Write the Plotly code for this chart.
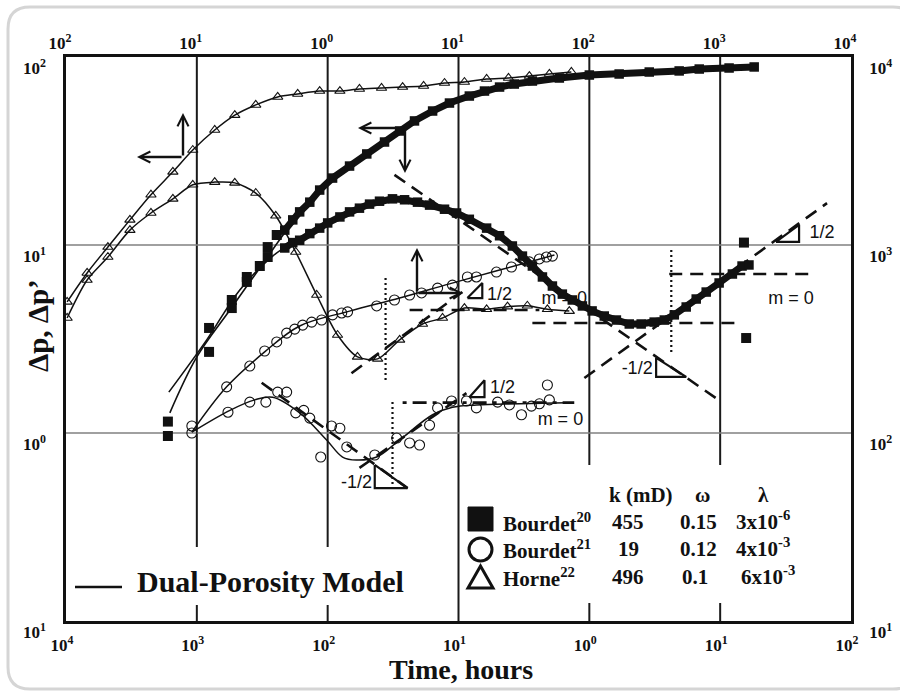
import numpy as np
import plotly.graph_objects as go

# ---------------- data ----------------
# Horne (time on top axis, pressure on left axis)
horne_t = [0.0102, 0.0145, 0.0209, 0.0308, 0.0446, 0.0656, 0.0931, 0.137, 0.195, 0.282, 0.415, 0.590,
           0.869, 1.24, 1.75, 2.58, 3.74, 5.41, 7.82, 11.1, 16.4, 24.1, 34.8, 49.5, 72.9]
horne_dp = [4.98, 7.10, 9.75, 13.6, 18.5, 24.5, 32.0, 40.9, 49.1, 55.6, 61.3, 63.6,
            65.9, 65.9, 67.6, 68.4, 69.2, 70.1, 72.7, 73.6, 76.4, 77.3, 79.2, 81.2, 83.2]
horne_td = [0.0102, 0.0145, 0.0209, 0.0308, 0.0446, 0.0656, 0.0931, 0.137, 0.195, 0.282, 0.401, 0.570,
            0.824, 1.19, 1.69, 2.41, 3.55, 5.31, 7.55, 11.1, 16.4, 23.7, 33.6, 47.8, 70.3]
horne_dpd = [4.09, 6.51, 8.63, 12.0, 14.8, 17.6, 20.9, 21.6, 21.4, 18.9, 14.3, 9.18,
             5.42, 3.32, 2.54, 2.48, 3.13, 3.80, 4.09, 4.62, 4.55, 4.70, 4.75, 4.55, 4.45]

# Bourdet 21 (time on top axis, pressure on right axis)
b21_t = [0.0916, 0.169, 0.254, 0.330, 0.408, 0.486, 0.560, 0.644, 0.755, 0.900, 1.09, 1.28, 1.42,
         2.37, 3.24, 4.23, 5.22, 6.92, 8.99, 11.7, 13.7, 19.5, 25.4, 34.8, 41.5, 47.0, 52.2]
b21_dp = [109, 176, 227, 273, 305, 340, 357, 375, 389, 399, 425, 435, 441,
          474, 510, 542, 556, 590, 612, 676, 676, 718, 764, 813, 843, 863, 873]
b21_td = [0.0916, 0.173, 0.254, 0.337, 0.415, 0.486, 0.570, 0.656, 0.730, 0.885, 1.07, 1.24, 1.40,
          2.29, 3.37, 4.23, 5.04, 6.01, 6.92, 8.85, 11.5, 13.7, 19.9, 24.5, 30.3, 36.1, 41.5, 47.8, 49.5]
b21_dpd = [100, 129, 146, 146, 165, 165, 128, 132, 120, 74.5, 109, 106, 84.3,
           76.4, 94.0, 88.5, 86.3, 110, 136, 148, 148, 136, 146, 141, 125, 139, 143, 180, 150]
b21_model_t = [0.0916, 0.169, 0.330, 0.611, 1.47, 3.55, 8.53, 20.6, 54.1]
b21_model_dp = [101, 176, 270, 371, 445, 522, 621, 736, 885]
b21_model_td = [0.0916, 0.179, 0.277, 0.380, 0.611, 0.982, 1.30, 1.66, 2.37, 3.55, 6.34, 8.99, 13.7, 29.2, 66.7]
b21_model_dpd = [101, 132, 150, 155, 128, 91.8, 74.5, 71.8, 74.5, 91.8, 125, 137, 141, 143, 145]

# Bourdet 20 (time on bottom axis, pressure on left axis)
b20_early_t = [6.01e-4, 6.01e-4, 1.24e-3, 1.24e-3, 1.85e-3, 1.85e-3, 2.41e-3, 2.41e-3, 3.03e-3, 3.48e-3, 3.48e-3, 4.08e-3]
b20_early_p = [1.15, 0.964, 3.62, 2.70, 5.10, 4.62, 6.76, 6.36, 7.73, 8.63, 9.75, 11.3]
b20_t = [4.70e-3, 5.41e-3, 6.11e-3, 7.30e-3, 8.69e-3, 0.0109, 0.0147, 0.0199, 0.0272, 0.0355, 0.0461, 0.0634,
         0.0853, 0.121, 0.158, 0.206, 0.267, 0.367, 0.590, 1.00, 1.69, 2.87, 4.86, 6.92, 11.7, 18.2]
b20_dp = [12.0, 13.6, 15.0, 16.9, 19.6, 22.7, 26.3, 30.5, 35.3, 40.4, 45.7, 51.6,
          56.9, 62.0, 65.9, 69.2, 71.8, 74.5, 77.3, 80.2, 81.2, 83.2, 84.3, 86.3, 87.4, 88.5]
b20_td = [4.70e-3, 5.41e-3, 6.11e-3, 7.30e-3, 8.69e-3, 0.0100, 0.0124, 0.0147, 0.0175, 0.0209, 0.0249, 0.0313,
          0.0387, 0.0486, 0.0601, 0.0782, 0.0966, 0.121, 0.164, 0.206, 0.258, 0.308, 0.367, 0.438, 0.522,
          0.622, 0.741, 0.885, 1.05, 1.30, 1.61, 2.02, 2.49, 3.13, 3.74, 4.46, 5.50, 6.56, 7.82, 9.82,
          12.4, 14.7, 16.6]
b20_dpd = [9.64, 10.3, 10.6, 11.5, 12.3, 13.1, 14.1, 15.0, 15.7, 16.5, 17.1, 17.6,
           17.4, 16.9, 16.3, 15.5, 14.8, 13.7, 12.3, 11.2, 9.88, 8.73, 7.73, 6.76, 6.05,
           5.48, 5.10, 4.74, 4.46, 4.19, 3.99, 3.80, 3.80, 3.89, 3.99, 4.25, 4.68, 5.16, 5.62, 6.28,
           7.01, 7.73, 7.83]
b20_out_t = [15.2, 15.8]
b20_out_p = [10.3, 3.20]
b20_model_t = [6.22e-4, 1.00e-3, 1.79e-3, 3.03e-3, 5.41e-3, 0.0109, 0.0355, 0.0853, 0.367, 2.87, 18.2]
b20_model_dp = [1.28, 2.54, 4.51, 7.55, 13.2, 22.7, 40.4, 56.9, 74.5, 83.2, 88.5]
b20_model_td = [6.11e-4, 1.19e-3, 2.13e-3, 3.80e-3, 5.41e-3, 0.0124, 0.0313, 0.0966, 0.258, 0.622, 2.02, 5.50, 14.7]
b20_model_dpd = [1.65, 3.13, 5.77, 8.73, 10.3, 14.1, 17.6, 14.8, 9.88, 5.48, 3.80, 4.68, 7.73]

# straight-line / slope markers (bottom time axis, left pressure axis)
dashed_x = [[0.0324, 9.31], [0.916, 65.6], [0.367, 14.7], [4.08, 52.2],
            [0.0152, 0.107], [0.0423, 0.415], [3.13e-3, 0.0408], [0.0175, 0.115]]
dashed_y = [[23.6, 1.53], [1.96, 16.7], [3.85, 3.85], [7.01, 7.01],
            [2.08, 5.62], [4.51, 4.51], [1.85, 0.509], [0.652, 1.63]]
dashdot_x = [0.0374, 0.767]
dashdot_y = [1.45, 1.45]
dotted_x = [[4.23, 4.23], [0.0277, 0.0277], [0.0313, 0.0313]]
dotted_y = [[9.40, 2.67], [6.67, 1.87], [1.46, 0.498]]
tri_x = [[26.7, 40.1, 40.1, 26.7], [3.24, 3.24, 5.50, 3.24], [0.117, 0.152, 0.152, 0.117],
         [0.121, 0.158, 0.158, 0.121], [0.0229, 0.0229, 0.0408, 0.0229]]
tri_y = [[10.4, 10.4, 12.8, 10.4], [2.51, 1.99, 1.99, 2.51], [5.22, 5.22, 6.28, 5.22],
         [1.55, 1.55, 1.91, 1.55], [0.676, 0.509, 0.509, 0.676]]
lab_x = [60.1, 34.8, 2.32, 0.206, 0.644, 0.217, 0.601, 0.0166]
lab_y = [11.5, 5.16, 2.19, 5.42, 5.10, 1.73, 1.16, 0.542]
lab_text = ['1/2', 'm = 0', '-1/2', '1/2', 'm = 0', '1/2', 'm = 0', '-1/2']

# axis tick labels (as printed)
bottom_vals = [1e-4, 1e-3, 1e-2, 1e-1, 1e0, 1e1, 1e2]
bottom_text = ['10<sup>4</sup>', '10<sup>3</sup>', '10<sup>2</sup>', '10<sup>1</sup>', '10<sup>0</sup>', '10<sup>1</sup>', '10<sup>2</sup>']
top_vals = [1e-2, 1e-1, 1e0, 1e1, 1e2, 1e3, 1e4]
top_text = ['10<sup>2</sup>', '10<sup>1</sup>', '10<sup>0</sup>', '10<sup>1</sup>', '10<sup>2</sup>', '10<sup>3</sup>', '10<sup>4</sup>']
left_vals = [1e-1, 1e0, 1e1, 1e2]
left_text = ['10<sup>1</sup>', '10<sup>0</sup>', '10<sup>1</sup>', '10<sup>2</sup>']
right_vals = [1e1, 1e2, 1e3, 1e4]
right_text = ['10<sup>1</sup>', '10<sup>2</sup>', '10<sup>3</sup>', '10<sup>4</sup>']

# legend table
tbl_names = ['Bourdet<sup>20</sup>', 'Bourdet<sup>21</sup>', 'Horne<sup>22</sup>']
tbl_k = ['455', '19', '496']
tbl_w = ['0.15', '0.12', '0.1']
tbl_l = ['3x10<sup>-6</sup>', '4x10<sup>-3</sup>', '6x10<sup>-3</sup>']

# ---------------- figure ----------------
W, H = 900, 692
L, R, T, B = 66, 851, 57, 621


def px(x):
    return (x - L) / (R - L)


def py(y):
    return (B - y) / (B - T)


SERIF = 'Liberation Serif'
SANS = 'Liberation Sans'
INK = '#111111'

fig = go.Figure()

# Bourdet20 model lines
for xs, ys in [(b20_model_t, b20_model_dp), (b20_model_td, b20_model_dpd)]:
    fig.add_trace(go.Scatter(x=xs, y=ys, mode='lines', line=dict(color=INK, width=1.6, shape='spline'),
                             xaxis='x', yaxis='y', showlegend=False, hoverinfo='skip'))

# slope lines
for xs, ys in zip(dashed_x, dashed_y):
    fig.add_trace(go.Scatter(x=xs, y=ys, mode='lines', line=dict(color=INK, width=2.6, dash='13px,8px'),
                             xaxis='x', yaxis='y', showlegend=False, hoverinfo='skip'))
fig.add_trace(go.Scatter(x=dashdot_x, y=dashdot_y, mode='lines',
                         line=dict(color=INK, width=2.6, dash='4px,6px,14px,6px'),
                         xaxis='x', yaxis='y', showlegend=False, hoverinfo='skip'))
for xs, ys in zip(dotted_x, dotted_y):
    fig.add_trace(go.Scatter(x=xs, y=ys, mode='lines', line=dict(color=INK, width=2.2, dash='2px,3px'),
                             xaxis='x', yaxis='y', showlegend=False, hoverinfo='skip'))
for xs, ys in zip(tri_x, tri_y):
    fig.add_trace(go.Scatter(x=xs, y=ys, mode='lines', line=dict(color=INK, width=2.2),
                             xaxis='x', yaxis='y', showlegend=False, hoverinfo='skip'))
fig.add_trace(go.Scatter(x=lab_x, y=lab_y, mode='text', text=lab_text,
                         textfont=dict(family=SANS, size=18, color=INK),
                         xaxis='x', yaxis='y', showlegend=False, hoverinfo='skip'))

# Bourdet20 data
fig.add_trace(go.Scatter(x=b20_early_t, y=b20_early_p, mode='markers',
                         marker=dict(symbol='square', size=10, color=INK),
                         xaxis='x', yaxis='y', showlegend=False))
for xs, ys in [(b20_t, b20_dp), (b20_td, b20_dpd)]:
    fig.add_trace(go.Scatter(x=xs, y=ys, mode='lines+markers',
                             line=dict(color=INK, width=7),
                             marker=dict(symbol='square', size=9.5, color=INK),
                             xaxis='x', yaxis='y', showlegend=False))
fig.add_trace(go.Scatter(x=b20_out_t, y=b20_out_p, mode='markers',
                         marker=dict(symbol='square', size=10, color=INK),
                         xaxis='x', yaxis='y', showlegend=False))

# Horne (top / left)
for xs, ys in [(horne_t, horne_dp), (horne_td, horne_dpd)]:
    fig.add_trace(go.Scatter(x=xs, y=ys, mode='lines+markers',
                             line=dict(color=INK, width=1.5, shape='spline', smoothing=0.8),
                             marker=dict(symbol='triangle-up-open', size=9, color=INK, line=dict(width=1.1)),
                             xaxis='x2', yaxis='y', showlegend=False))

# Bourdet21 (top / right)
for xs, ys in [(b21_model_t, b21_model_dp), (b21_model_td, b21_model_dpd)]:
    fig.add_trace(go.Scatter(x=xs, y=ys, mode='lines', line=dict(color=INK, width=1.5, shape='spline'),
                             xaxis='x2', yaxis='y2', showlegend=False, hoverinfo='skip'))
for xs, ys in [(b21_t, b21_dp), (b21_td, b21_dpd)]:
    fig.add_trace(go.Scatter(x=xs, y=ys, mode='markers',
                             marker=dict(symbol='circle-open', size=10, color=INK, line=dict(width=1.1)),
                             xaxis='x2', yaxis='y2', showlegend=False))

tickfont = dict(family=SERIF, size=17, color=INK, weight='bold')
axis_common = dict(type='log', showgrid=False, zeroline=False, showline=True, linecolor=INK,
                   linewidth=2.5, ticks='', tickfont=tickfont, tickmode='array')

shapes = []
# card frame with rounded corners
fx0, fy0, fx1, fy1, rr = 8, 7, 915, 689, 22
frame_pts = (f"M {px(fx0 + rr)},{py(fy0)} L {px(fx1 - rr)},{py(fy0)} "
             f"Q {px(fx1)},{py(fy0)} {px(fx1)},{py(fy0 + rr)} L {px(fx1)},{py(fy1 - rr)} "
             f"Q {px(fx1)},{py(fy1)} {px(fx1 - rr)},{py(fy1)} L {px(fx0 + rr)},{py(fy1)} "
             f"Q {px(fx0)},{py(fy1)} {px(fx0)},{py(fy1 - rr)} L {px(fx0)},{py(fy0 + rr)} "
             f"Q {px(fx0)},{py(fy0)} {px(fx0 + rr)},{py(fy0)} Z")
shapes.append(dict(type='path', xref='paper', yref='paper', path=frame_pts, layer='below',
                   line=dict(color='#d5d5d5', width=3)))
# grid lines
grid_v = dict(color='#1a1a1a', width=2)
for k, (ystop, tick_top) in {1: (547, 605), 2: (547, 605), 3: (B, B), 4: (465, 603), 5: (465, 603)}.items():
    shapes.append(dict(type='line', xref='paper', yref='paper', x0=k / 6, x1=k / 6, y0=py(ystop), y1=1,
                       line=grid_v, layer='below'))
    if tick_top != B:
        shapes.append(dict(type='line', xref='paper', yref='paper', x0=k / 6, x1=k / 6, y0=0, y1=py(tick_top),
                           line=grid_v, layer='below'))
for j in (1, 2):
    shapes.append(dict(type='line', xref='paper', yref='paper', x0=0, x1=1, y0=j / 3, y1=j / 3,
                       line=dict(color='#808080', width=1.6), layer='below'))
# legend keys
shapes.append(dict(type='rect', xref='paper', yref='paper', x0=px(468), x1=px(493), y0=py(531), y1=py(507),
                   fillcolor=INK, line=dict(color=INK, width=1)))
shapes.append(dict(type='circle', xref='paper', yref='paper', x0=px(469), x1=px(492), y0=py(561), y1=py(538),
                   line=dict(color=INK, width=3)))
shapes.append(dict(type='path', xref='paper', yref='paper',
                   path=f"M {px(468)},{py(588)} L {px(493)},{py(588)} L {px(480.5)},{py(566)} Z",
                   line=dict(color=INK, width=3)))
shapes.append(dict(type='line', xref='paper', yref='paper', x0=px(75), x1=px(122), y0=py(587), y1=py(587),
                   line=dict(color=INK, width=2.6)))

ann = []


def label(xp, yp, text, font, xanchor='center', **kw):
    ann.append(dict(xref='paper', yref='paper', x=px(xp), y=py(yp), text=text, showarrow=False, font=font,
                    xanchor=xanchor, yanchor='middle', **kw))


big = dict(family=SERIF, size=28, color=INK, weight='bold')
label(461, 669, 'Time, hours', big)
label(38, 326, 'Δp, Δp’', dict(family=SERIF, size=29, color=INK, weight='bold'), textangle=-90)
label(135, 581, 'Dual-Porosity Model', dict(family=SERIF, size=30, color=INK, weight='bold'), xanchor='left')
tf = dict(family=SERIF, size=21, color=INK, weight='bold')
label(641, 495, 'k (mD)', tf)
label(702, 495, 'ω', tf)
label(763, 495, 'λ', tf)
for i, yrow in enumerate([522, 549, 577]):
    label(501, yrow, tbl_names[i], tf, xanchor='left')
    label(628, yrow, tbl_k[i], tf)
    label(698 if i < 2 else 695, yrow, tbl_w[i], tf)
    label(763 if i < 2 else 768, yrow - 2, tbl_l[i], tf)
# axis-direction arrows (head position, tail offset in px)
for hx, hy, ax_, ay_ in [(183, 113, 0, 44), (137, 157, 46, 0), (358, 128, 47, 0), (405, 173, 0, -45),
                         (417, 248, 0, 45), (463, 293, -46, 0)]:
    ann.append(dict(xref='paper', yref='paper', x=px(hx), y=py(hy), ax=ax_, ay=ay_, text='', showarrow=True,
                    arrowhead=5, arrowsize=0.9, arrowwidth=2.4, arrowcolor=INK, standoff=0, startstandoff=0))

fig.update_layout(
    width=W, height=H, margin=dict(l=L, r=W - R, t=T, b=H - B, pad=0, autoexpand=False),
    paper_bgcolor='white', plot_bgcolor='rgba(0,0,0,0)', showlegend=False,
    xaxis=dict(axis_common, range=[-4, 2], anchor='y', side='bottom', tickvals=bottom_vals, ticktext=bottom_text,
               ticklabelstandoff=7, ticklabelshift=-4, automargin=False),
    xaxis2=dict(axis_common, range=[-2, 4], anchor='y', side='top', overlaying='x', tickvals=top_vals,
                ticktext=top_text, ticklabelstandoff=-2, ticklabelshift=-6, automargin=False),
    yaxis=dict(axis_common, range=[-1, 2], anchor='x', side='left', tickvals=left_vals, ticktext=left_text,
               ticklabelstandoff=14, ticklabelshift=11, automargin=False),
    yaxis2=dict(axis_common, range=[1, 4], anchor='x', side='right', overlaying='y', tickvals=right_vals,
                ticktext=right_text, ticklabelstandoff=12, ticklabelshift=11, automargin=False),
    shapes=shapes, annotations=ann,
)

fig.write_html('out.html', config={'displayModeBar': False},
               post_script="document.body.style.margin='0';document.body.style.overflow='hidden';")
